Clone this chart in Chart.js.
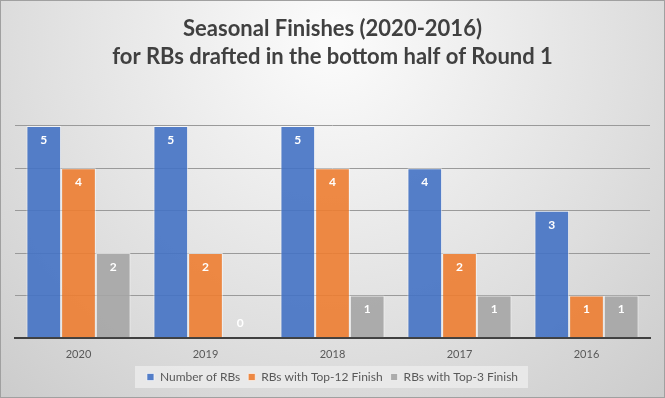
<!DOCTYPE html>
<html>
<head>
<meta charset="utf-8">
<script src="https://cdn.jsdelivr.net/npm/chart.js@4/dist/chart.umd.min.js"></script>
<style>
  html, body { margin: 0; padding: 0; background: #fff; }
  #wrap { width: 665px; height: 398px; }
</style>
</head>
<body>
<div id="wrap"><canvas id="chart" width="665" height="398"></canvas></div>
<script>
// values
const years = ["2020", "2019", "2018", "2017", "2016"];
const numberOfRBs = [5, 5, 5, 4, 3];
const top12Finish = [4, 2, 4, 2, 1];
const top3Finish = [2, 0, 1, 1, 1];
const seriesNames = ["Number of RBs", "RBs with Top-12 Finish", "RBs with Top-3 Finish"];
const titleLines = ["Seasonal Finishes (2020-2016)", "for RBs drafted in the bottom half of Round 1"];

const colors = ["rgba(68,114,196,0.9)", "rgba(237,125,49,0.9)", "rgba(165,165,165,0.9)"];

// radial grey background + outer border + legend panel
const backdrop = {
  id: "backdrop",
  beforeDraw(chart) {
    const { ctx, width, height } = chart;
    ctx.save();
    const g = ctx.createRadialGradient(width / 2, 40, 10, width / 2, 40, 560);
    g.addColorStop(0, "#fbfbfb");
    g.addColorStop(0.55, "#dedede");
    g.addColorStop(1, "#c4c4c4");
    ctx.fillStyle = g;
    ctx.fillRect(0, 0, width, height);
    ctx.strokeStyle = "#a0a0a0";
    ctx.lineWidth = 1;
    ctx.strokeRect(0.5, 0.5, width - 1, height - 1);

    const boxes = chart.legend && chart.legend.legendHitBoxes;
    if (boxes && boxes.length) {
      const l = Math.min(...boxes.map(b => b.left)) - 12;
      const r = Math.max(...boxes.map(b => b.left + b.width)) + 10;
      const t = boxes[0].top - 5;
      ctx.fillStyle = "rgba(235,235,235,0.85)";
      ctx.fillRect(l, t, r - l, boxes[0].height + 10);
    }
    ctx.restore();
  }
};

// value labels inside top of bars
const barLabels = {
  id: "barLabels",
  afterDatasetsDraw(chart) {
    const { ctx } = chart;
    ctx.save();
    ctx.font = "bold 12px Lato, 'Open Sans', sans-serif";
    ctx.textAlign = "center";
    ctx.textBaseline = "middle";
    ctx.fillStyle = "#ffffff";
    chart.data.datasets.forEach((ds, i) => {
      chart.getDatasetMeta(i).data.forEach((bar, j) => {
        const v = ds.data[j];
        const y = v === 0 ? bar.y - 15 : bar.y + 14;
        ctx.fillText(String(v), bar.x, y);
      });
    });
    ctx.restore();
  }
};

new Chart(document.getElementById("chart"), {
  type: "bar",
  data: {
    labels: years,
    datasets: [
      { label: seriesNames[0], data: numberOfRBs, backgroundColor: colors[0] },
      { label: seriesNames[1], data: top12Finish, backgroundColor: colors[1] },
      { label: seriesNames[2], data: top3Finish, backgroundColor: colors[2] }
    ].map(d => Object.assign(d, {
      borderColor: "rgba(255,255,255,0.6)",
      borderWidth: 1,
      categoryPercentage: 0.82,
      barPercentage: 1.0
    }))
  },
  options: {
    responsive: false,
    animation: false,
    layout: { padding: { left: 15, right: 15, top: 11, bottom: 5 } },
    plugins: {
      title: {
        display: true,
        text: titleLines,
        color: "#404040",
        font: { family: "Lato, 'Open Sans', sans-serif", size: 22, weight: "bold", lineHeight: 1.27 },
        padding: { top: 4, bottom: 55 }
      },
      legend: {
        position: "bottom",
        labels: {
          boxWidth: 7,
          boxHeight: 7,
          padding: 8,
          color: "#595959",
          font: { family: "Lato, 'Open Sans', sans-serif", size: 12 }
        }
      },
      tooltip: { enabled: false }
    },
    scales: {
      x: {
        grid: { display: false },
        border: { color: "#404040", width: 2 },
        ticks: { color: "#595959", font: { family: "Lato, 'Open Sans', sans-serif", size: 11 }, padding: 2 }
      },
      y: {
        min: 0,
        max: 5,
        ticks: { display: false, stepSize: 1 },
        grid: { color: "#9a9a9a", drawTicks: false },
        border: { display: false }
      }
    }
  },
  plugins: [backdrop, barLabels]
});
</script>
</body>
</html>
